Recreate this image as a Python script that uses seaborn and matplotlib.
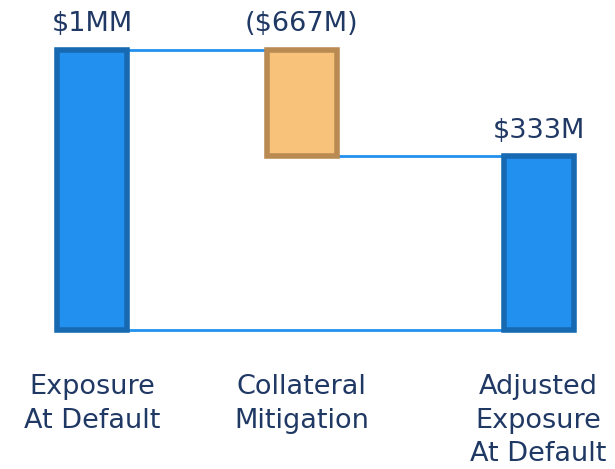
import matplotlib
matplotlib.use("Agg")
import matplotlib.pyplot as plt
import seaborn as sns

# ---- data (visual levels; top of first bar = 100) ----
categories = ["Exposure\nAt Default", "Collateral\nMitigation", "Adjusted\nExposure\nAt Default"]
bar_top = [100, 100, 62]
bar_bottom = [0, 62, 0]
value_labels = ["$1MM", "($667M)", "$333M"]

# ---- layout / style ----
x_pos = [92, 301.5, 538.5]
bar_w = 70
fills = ["#2190EE", "#F8C27A", "#2190EE"]
edges = ["#1769B2", "#B98B52", "#1769B2"]
txt = "#203864"
line_c = "#2190EE"

sns.set_theme(style="white")
plt.rcParams["font.family"] = ["DejaVu Sans"]

W, H = 615, 469
fig = plt.figure(figsize=(W / 100, H / 100), dpi=100)
zero_px = 330
ax = fig.add_axes([0, (H - zero_px) / H, 1, zero_px / H])

for i in range(3):
    sns.barplot(x=[x_pos[i]], y=[bar_top[i] - bar_bottom[i]], bottom=bar_bottom[i],
                native_scale=True, width=bar_w, color=fills[i], saturation=1,
                edgecolor=edges[i], linewidth=4, ax=ax, clip_on=False)

px_per_unit = (330 - 50) / 100
ax.set_xlim(0, W)
ax.set_ylim(0, zero_px / px_per_unit)

# connectors
lw = 2
ax.plot([x_pos[0] + bar_w / 2, x_pos[1] - bar_w / 2], [bar_top[0], bar_top[1]], color=line_c, lw=lw, zorder=0, clip_on=False)
ax.plot([x_pos[1] + bar_w / 2, x_pos[2] - bar_w / 2], [bar_bottom[1], bar_top[2]], color=line_c, lw=lw, zorder=0, clip_on=False)
ax.plot([x_pos[0] + bar_w / 2, x_pos[2] - bar_w / 2], [bar_bottom[0], bar_bottom[2]], color=line_c, lw=lw, zorder=0, clip_on=False)

# value labels
for i in range(3):
    ax.text(x_pos[i], bar_top[i] + 4.6, value_labels[i], ha="center", va="bottom",
            fontsize=19.5, color=txt, clip_on=False)

ax.set_xticks(x_pos)
ax.set_xticklabels(categories, fontsize=19.5, color=txt, linespacing=1.36)
ax.tick_params(axis="x", length=0, pad=32)
ax.set_yticks([])
ax.set_xlabel("")
ax.set_ylabel("")
for s in ax.spines.values():
    s.set_visible(False)
ax.patch.set_alpha(0)

fig.savefig("out.png", dpi=100)
